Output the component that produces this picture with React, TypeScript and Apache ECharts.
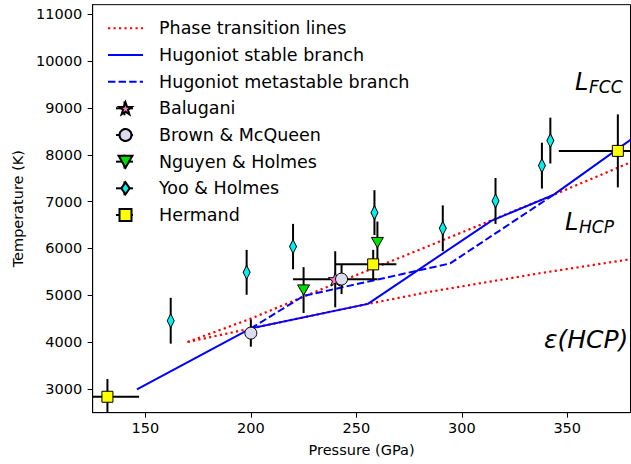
import React, { useEffect, useRef } from 'react';
import * as echarts from 'echarts';

const FONT = "'DejaVu Sans', sans-serif";

// Axis ticks
const xTicks = [150, 200, 250, 300, 350];
const yTicks = [3000, 4000, 5000, 6000, 7000, 8000, 9000, 10000, 11000];

// Lines [pressure GPa, temperature K]
const phaseUpper = [[170, 4000], [200, 4500], [240, 5250], [270, 5790], [314, 6600], [343.5, 7145], [380, 7840]];
const phaseLower = [[170, 4000], [200, 4290], [255.5, 4815], [285, 5075], [337, 5470], [380, 5770]];
const hugoniotStable = [[146, 2990], [200, 4290], [255.5, 4815], [314, 6590], [343.5, 7145], [380, 8320]];
const hugoniotMeta = [[200, 4290], [225, 4985], [294.5, 5680], [343.5, 7145]];

// Experimental points, with errors [low, high]
const baluganiPts = [[240, 5340]];
const baluganiXErr = [[20, 20]];
const baluganiYErr = [[600, 600]];

const brownPts = [[200, 4190], [243, 5345]];
const brownXErr = [[0, 0], [0, 0]];
const brownYErr = [[290, 290], [320, 320]];

const nguyenPts = [[225, 5110], [260, 6125]];
const nguyenXErr = [[0, 0], [0, 0]];
const nguyenYErr = [[490, 490], [450, 450]];

const yooPts = [[162, 4455], [198, 5490], [220, 6040], [258.6, 6765], [291, 6430], [316, 7015], [338, 7770], [342, 8305]];
const yooXErr = [[0, 0], [0, 0], [0, 0], [0, 0], [0, 0], [0, 0], [0, 0], [0, 0]];
const yooYErr = [[490, 490], [480, 480], [485, 485], [480, 480], [490, 490], [490, 490], [490, 490], [490, 490]];

const hermandPts = [[132, 2830], [258, 5660], [374, 8085]];
const hermandXErr = [[15, 15], [18, 11], [28, 28]];
const hermandYErr = [[380, 380], [310, 310], [780, 780]];

const legendNames = [
  'Phase transition lines',
  'Hugoniot stable branch',
  'Hugoniot metastable branch',
  'Balugani',
  'Brown & McQueen',
  'Nguyen & Holmes',
  'Yoo & Holmes',
  'Hermand',
];

const STAR = 'path://M0,-10 L2.35,-3.24 L9.51,-3.09 L3.8,1.24 L5.88,8.09 L0,4 L-5.88,8.09 L-3.8,1.24 L-9.51,-3.09 L-2.35,-3.24 Z';
const TRI_DOWN = 'path://M-5,-4.33 L5,-4.33 L0,4.33 Z';
const THIN_DIAMOND = 'path://M0,-10 L7,0 L0,10 L-7,0 Z';
const SQUARE = 'path://M0,0 L10,0 L10,10 L0,10 Z';

function errData(pts: number[][], xe: number[][], ye: number[][]) {
  return pts.map((p, i) => [p[0], p[1], p[0] - xe[i][0], p[0] + xe[i][1], p[1] - ye[i][0], p[1] + ye[i][1]]);
}

function errSeries(name: string, data: number[][], z: number) {
  return {
    type: 'custom',
    name,
    data,
    z,
    silent: true,
    encode: { x: 0, y: 1 },
    renderItem: (params: any, api: any) => {
      const cs = params.coordSys;
      const cx = (v: number) => Math.max(cs.x, Math.min(cs.x + cs.width, v));
      const cy = (v: number) => Math.max(cs.y, Math.min(cs.y + cs.height, v));
      const x = api.value(0), y = api.value(1);
      const x0 = api.value(2), x1 = api.value(3), y0 = api.value(4), y1 = api.value(5);
      const c = api.coord([x, y]);
      const children: any[] = [];
      const st = { stroke: '#000', lineWidth: 2 };
      if (x1 > x0) {
        const a = api.coord([x0, y]);
        const b = api.coord([x1, y]);
        children.push({ type: 'line', shape: { x1: cx(a[0]), y1: c[1], x2: cx(b[0]), y2: c[1] }, style: st });
      }
      if (y1 > y0) {
        const a = api.coord([x, y0]);
        const b = api.coord([x, y1]);
        children.push({ type: 'line', shape: { x1: c[0], y1: cy(a[1]), x2: c[0], y2: cy(b[1]) }, style: st });
      }
      return { type: 'group', children };
    },
  };
}

function ptSeries(name: string, data: number[][], symbol: string, size: any, color: string, z: number) {
  return {
    type: 'scatter',
    name,
    data,
    symbol,
    symbolSize: size,
    symbolKeepAspect: true,
    z,
    silent: true,
    itemStyle: { color, borderColor: '#000', borderWidth: 1, opacity: 1 },
  };
}

export default function App() {
  const ref = useRef<HTMLDivElement>(null);
  useEffect(() => {
    if (!ref.current) return;
    const chart = echarts.init(ref.current, undefined, { renderer: 'svg' });

    const legendTop = 18.3;
    const pitch = 26.67;
    const iconCx = 124.5;
    const crosses: any[] = [];
    for (let i = 3; i < 8; i++) {
      const cyv = legendTop + 10 + i * pitch;
      crosses.push({ type: 'line', z: 0, shape: { x1: iconCx - 8.5, y1: cyv, x2: iconCx + 8.5, y2: cyv }, style: { stroke: '#000', lineWidth: 2 } });
      crosses.push({ type: 'line', z: 0, shape: { x1: iconCx, y1: cyv - 7, x2: iconCx, y2: cyv + 7 }, style: { stroke: '#000', lineWidth: 2 } });
    }

    const italic = (text: string, x: number, y: number, size: number) => ({
      type: 'text',
      z: 50,
      style: { text, x, y, font: `italic ${size}px ${FONT}`, fill: '#000', textVerticalAlign: 'middle', verticalAlign: 'middle' },
    });

    const legendData = legendNames.map((n, i) =>
      i < 3 ? { name: n, itemStyle: { opacity: 0, borderWidth: 0, color: 'transparent' } } : { name: n }
    );

    const option: any = {
      animation: false,
      backgroundColor: '#fff',
      grid: { left: 92.67, top: 4.67, right: 0.5, bottom: 51.33, show: true, borderColor: '#000', borderWidth: 1, backgroundColor: 'transparent' },
      xAxis: {
        type: 'value',
        min: 125,
        max: 380,
        name: 'Pressure (GPa)',
        nameLocation: 'middle',
        nameGap: 30,
        nameTextStyle: { fontFamily: FONT, fontSize: 14.5, color: '#000' },
        axisLine: { show: true, lineStyle: { color: '#000', width: 1 } },
        axisTick: { show: true, length: 5, lineStyle: { color: '#000', width: 1 }, customValues: xTicks },
        axisLabel: { fontFamily: FONT, fontSize: 14.5, color: '#000', margin: 8, customValues: xTicks, formatter: (v: number) => String(v) },
        splitLine: { show: false },
      },
      yAxis: {
        type: 'value',
        min: 2490,
        max: 11210,
        name: 'Temperature (K)',
        nameLocation: 'middle',
        nameGap: 64,
        nameTextStyle: { fontFamily: FONT, fontSize: 14.5, color: '#000' },
        axisLine: { show: true, lineStyle: { color: '#000', width: 1 } },
        axisTick: { show: true, length: 5, lineStyle: { color: '#000', width: 1 }, customValues: yTicks },
        axisLabel: { fontFamily: FONT, fontSize: 14.5, color: '#000', margin: 10.5, customValues: yTicks, formatter: (v: number) => String(v) },
        splitLine: { show: false },
      },
      legend: {
        orient: 'vertical',
        left: 107,
        top: legendTop,
        itemWidth: 35,
        itemHeight: 12,
        itemGap: pitch - 20,
        padding: 0,
        selectedMode: false,
        textStyle: { fontFamily: FONT, fontSize: 17.5, color: '#000', lineHeight: 20, padding: [0, 0, 0, 11] },
        data: legendData,
      },
      graphic: [
        ...crosses,
        italic('L', 575, 82.4, 24),
        italic('FCC', 589, 87.4, 17),
        italic('L', 565, 221.7, 24),
        italic('HCP', 579, 227.4, 17),
        italic('ε(HCP)', 544, 339, 25),
      ],
      series: [
        { type: 'line', name: legendNames[0], data: phaseUpper, symbol: 'none', showSymbol: false, z: 2, silent: true, lineStyle: { color: '#ff0000', width: 2.2, type: [2.2, 3.3] } },
        { type: 'line', name: legendNames[0], data: phaseLower, symbol: 'none', showSymbol: false, z: 2, silent: true, lineStyle: { color: '#ff0000', width: 2.2, type: [2.2, 3.3] } },
        { type: 'line', name: legendNames[1], data: hugoniotStable, symbol: 'none', showSymbol: false, z: 3, silent: true, lineStyle: { color: '#0000ff', width: 2, type: 'solid' } },
        { type: 'line', name: legendNames[2], data: hugoniotMeta, symbol: 'none', showSymbol: false, z: 3, silent: true, lineStyle: { color: '#0000ff', width: 2, type: [7.4, 3.2] } },
        errSeries('Balugani errors', errData(baluganiPts, baluganiXErr, baluganiYErr), 10),
        ptSeries(legendNames[3], baluganiPts, STAR, 14, '#f77fc3', 11),
        errSeries('Brown errors', errData(brownPts, brownXErr, brownYErr), 12),
        ptSeries(legendNames[4], brownPts, 'circle', 12, '#dcdcf0', 13),
        errSeries('Nguyen errors', errData(nguyenPts, nguyenXErr, nguyenYErr), 14),
        ptSeries(legendNames[5], nguyenPts, TRI_DOWN, 12, '#00e000', 15),
        errSeries('Yoo errors', errData(yooPts, yooXErr, yooYErr), 16),
        ptSeries(legendNames[6], yooPts, THIN_DIAMOND, [10, 14], '#00f0f0', 17),
        errSeries('Hermand errors', errData(hermandPts, hermandXErr, hermandYErr), 18),
        ptSeries(legendNames[7], hermandPts, SQUARE, 11, '#ffff00', 19),
      ],
    };
    chart.setOption(option);
    return () => chart.dispose();
  }, []);
  return <div ref={ref} style={{ position: 'absolute', left: 0, top: 0, width: 631, height: 464, background: '#fff' }} />;
}
